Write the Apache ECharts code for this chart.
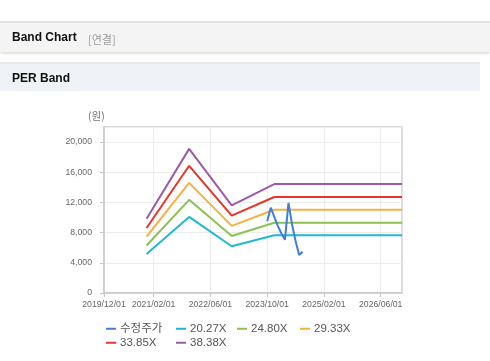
<!DOCTYPE html>
<html>
<head>
<meta charset="utf-8">
<script src="https://cdn.jsdelivr.net/npm/echarts@6/dist/echarts.min.js"></script>
<style>
  html, body { margin:0; padding:0; width:490px; height:361px; background:#fff; overflow:hidden;
    font-family: "Liberation Sans", Arial, "Noto Sans CJK KR", sans-serif; }
  #bar1 { position:absolute; left:0; top:21px; width:490px; height:29px; background:#f4f4f4;
    border-top:2px solid #e2e2e2; box-shadow:0 2px 2px rgba(0,0,0,0.12); }
  #bar1 .t { position:absolute; left:12px; top:7px; font-size:12px; font-weight:bold; color:#111; }
  #bar1 .s { position:absolute; left:88px; top:8px; font-size:11px; color:#999; font-family:"Noto Sans CJK KR", sans-serif; }
  #bar2 { position:absolute; left:0; top:62px; width:480px; height:27px; background:#eff2f7;
    border-top:2px solid #e4e7ec; }
  #bar2 .t { position:absolute; left:12px; top:7px; font-size:12px; font-weight:bold; color:#111; }
  #chart { position:absolute; left:0; top:0; width:490px; height:361px; }
</style>
</head>
<body>
<div id="chart"></div>
<div id="bar1"><span class="t">Band Chart</span><span class="s">[연결]</span></div>
<div id="bar2"><span class="t">PER Band</span></div>
<script>
// ---- data ----
const startYear = 2019, startMonth = 12, endYear = 2026, endMonth = 12;
const tickLabels = ['2019/12/01','2021/02/01','2022/06/01','2023/10/01','2025/02/01','2026/06/01'];
const seriesNames = ['수정주가','20.27X','24.80X','29.33X','33.85X','38.38X'];
const bandDates = ['2020/12/01','2021/12/01','2022/12/01','2023/12/01','2026/12/01'];
const band2027 = [5170, 10080, 6200, 7650, 7650];
const band2480 = [6300, 12350, 7560, 9300, 9300];
const band2933 = [7480, 14600, 8900, 11030, 11030];
const band3385 = [8620, 16860, 10260, 12720, 12720];
const band3838 = [9850, 19100, 11620, 14430, 14430];
const priceDates = ['2023/10/01','2023/11/01','2023/12/01','2024/01/01','2024/02/01','2024/03/01','2024/04/01','2024/05/01','2024/06/01','2024/07/01','2024/08/01'];
const priceValues = [9500, 11300, 10100, 8900, 7900, 7050, 11950, 9100, 6900, 5050, 5450];
const yTickStep = 4000, yMax = 22000;

// categories (monthly)
const categories = [];
for (let y = startYear, m = startMonth; y < endYear || (y === endYear && m <= endMonth); ) {
  categories.push(y + '/' + String(m).padStart(2,'0') + '/01');
  m++; if (m > 12) { m = 1; y++; }
}
const pairs = (d, v) => d.map((x, i) => [x, v[i]]);
const isTick = (idx, val) => tickLabels.indexOf(val) >= 0;

const colors = ['#3f7fd6','#1fb8d2','#8cc152','#f6b042','#e6352b','#9b5aa8'];
const bandData = [band2027, band2480, band2933, band3385, band3838];

const series = [{
  name: seriesNames[0], type: 'line', data: pairs(priceDates, priceValues),
  showSymbol: false, symbol: 'none', z: 10,
  lineStyle: { width: 2, color: colors[0] }, itemStyle: { color: colors[0] }
}];
bandData.forEach((b, i) => series.push({
  name: seriesNames[i+1], type: 'line', data: pairs(bandDates, b),
  showSymbol: false, symbol: 'none', z: 2,
  lineStyle: { width: 2, color: colors[i+1] }, itemStyle: { color: colors[i+1] }
}));

// legend slots (layout only)
const legendSlots = [[106, 323], [176, 323], [237, 323], [300, 323], [106, 337], [176, 337]];
const legends = seriesNames.map((n, i) => ({
  data: [n], left: legendSlots[i][0], top: legendSlots[i][1],
  itemWidth: 10, itemHeight: 2, icon: 'rect', itemGap: 0, padding: 0,
  textStyle: { fontSize: 11.5, color: '#555', padding: [0, 0, 0, -1] }
}));

const chart = echarts.init(document.getElementById('chart'), null, { renderer: 'canvas' });
chart.setOption({
  animation: false,
  color: colors,
  textStyle: { fontFamily: '"Liberation Sans", Arial, "Noto Sans CJK KR", sans-serif' },
  grid: { left: 104, right: 88, top: 127, bottom: 68, show: true, borderColor: '#d2d2d2', borderWidth: 1.5, containLabel: false },
  xAxis: {
    type: 'category', data: categories, boundaryGap: false,
    axisLine: { lineStyle: { color: '#c8c8c8', width: 1.5 } },
    axisTick: { show: true, interval: isTick, length: 4, lineStyle: { color: '#c8c8c8' } },
    axisLabel: { interval: isTick, fontSize: 8.7, color: '#666', margin: 7 },
    splitLine: { show: true, interval: isTick, lineStyle: { color: '#ececec', width: 1 } }
  },
  yAxis: {
    type: 'value', min: 0, max: yMax, interval: yTickStep,
    axisLine: { show: true, lineStyle: { color: '#c8c8c8', width: 1.5 } },
    axisTick: { show: true, length: 4, lineStyle: { color: '#c8c8c8' } },
    axisLabel: { fontSize: 8.7, color: '#666', margin: 12, showMaxLabel: false },
    splitLine: { show: true, lineStyle: { color: '#ececec', width: 1 } }
  },
  graphic: [{ type: 'text', left: 88, top: 111, style: { text: '(원)', fontSize: 10.5, fill: '#777', fontFamily: '"Noto Sans CJK KR", sans-serif' } }],
  legend: legends,
  series: series
});
</script>
</body>
</html>
